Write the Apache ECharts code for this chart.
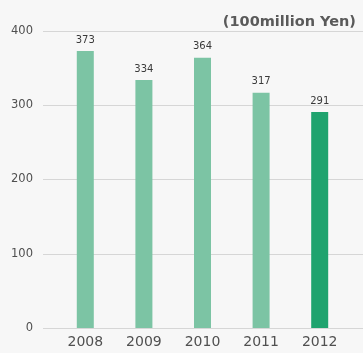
<!DOCTYPE html>
<html>
<head>
<meta charset="utf-8">
<script src="https://cdn.jsdelivr.net/npm/echarts@6/dist/echarts.min.js"></script>
<style>
  html, body { margin: 0; padding: 0; background: #f7f7f7; }
  #chart { width: 363px; height: 353px; }
</style>
</head>
<body>
<div id="chart"></div>
<script>
// Sales by fiscal year, in units of 100 million yen
const years = ['2008', '2009', '2010', '2011', '2012'];
const sales = [373, 334, 364, 317, 291];
const yTicks = [0, 100, 200, 300, 400];
const unitLabel = '(100million Yen)';

const lightGreen = '#7cc4a4';
const darkGreen = '#1fa36e';
const labelFont = 'DejaVu Sans, Verdana, sans-serif';

const chart = echarts.init(document.getElementById('chart'), null, { renderer: 'canvas' });

chart.setOption({
  backgroundColor: '#f7f7f7',
  animation: false,
  title: {
    text: unitLabel,
    right: 2,
    top: 10,
    textStyle: { color: '#5a5a5a', fontSize: 14.5, fontWeight: 'bold', fontFamily: labelFont }
  },
  grid: [
    // wide grid: carries the value axis, its labels and the horizontal rules
    { left: 43, right: 0, top: 31, bottom: 25 },
    // narrower grid: carries the bars and the year labels
    { left: 56, right: 14, top: 31, bottom: 25 }
  ],
  xAxis: [
    { gridIndex: 0, type: 'category', data: years, show: false },
    {
      gridIndex: 1, type: 'category', data: years,
      axisLine: { show: false }, axisTick: { show: false },
      axisLabel: { color: '#505050', fontSize: 14, fontFamily: labelFont, margin: 7 }
    }
  ],
  yAxis: [
    {
      gridIndex: 0, type: 'value', min: yTicks[0], max: yTicks[yTicks.length - 1], interval: 100,
      axisLine: { show: false }, axisTick: { show: false },
      axisLabel: { color: '#505050', fontSize: 11.5, fontFamily: labelFont, margin: 10 },
      splitLine: { lineStyle: { color: '#d6d6d6', width: 1 } }
    },
    {
      gridIndex: 1, type: 'value', min: yTicks[0], max: yTicks[yTicks.length - 1], interval: 100,
      show: false, splitLine: { show: false }
    }
  ],
  series: [{
    type: 'bar',
    xAxisIndex: 1,
    yAxisIndex: 1,
    barWidth: 17,
    data: sales.map((v, i) => ({
      value: v,
      itemStyle: { color: i === sales.length - 1 ? darkGreen : lightGreen }
    })),
    label: {
      show: true,
      position: 'top',
      distance: 6,
      color: '#3a3a3a',
      fontSize: 10,
      fontFamily: labelFont
    }
  }]
});
</script>
</body>
</html>
